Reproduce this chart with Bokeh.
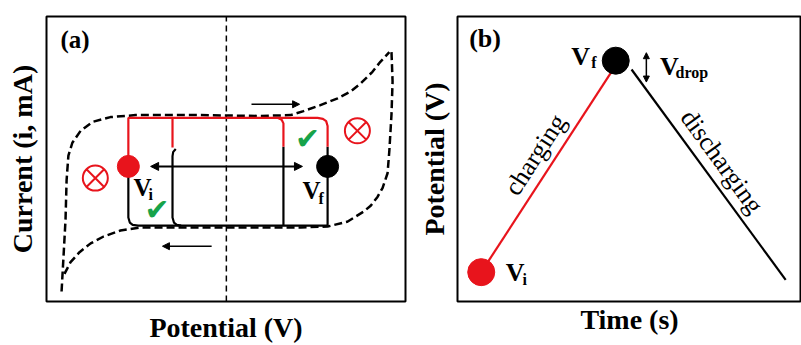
import math
from bokeh.plotting import figure
from bokeh.layouts import row
from bokeh.models import Range1d, FixedTicker, Arrow, NormalHead
from bokeh.core.properties import value
from bokeh.embed import file_html
from bokeh.resources import INLINE

# ---------------- Panel (a): CV schematic (normalised units 0-10) ----------------
cv_fwd_x = [0.42, 0.47, 0.53, 0.56, 0.61, 0.72, 0.95, 1.28, 1.78, 2.48, 4.29, 5.96, 6.80, 7.16, 7.63, 8.11, 8.47, 8.75, 9.08, 9.30, 9.55]
cv_fwd_y = [0.35, 1.49, 2.87, 4.26, 5.12, 5.57, 5.99, 6.30, 6.47, 6.54, 6.54, 6.51, 6.54, 6.68, 6.89, 7.13, 7.37, 7.65, 8.06, 8.41, 8.75]
cv_rev_x = [9.61, 9.64, 9.61, 9.55, 9.50, 9.36, 9.22, 9.03, 8.83, 8.38, 7.83, 7.08, 4.29, 2.62, 2.06, 1.59, 1.23, 0.92, 0.67, 0.50]
cv_rev_y = [8.75, 7.72, 6.57, 5.29, 4.50, 3.98, 3.67, 3.36, 3.15, 2.80, 2.63, 2.60, 2.60, 2.60, 2.49, 2.28, 2.04, 1.73, 1.38, 0.97]
zero_x = [5.01, 5.01]
zero_y = [0.0, 10.0]

# charging (red) segments
red_xs = [[2.28, 2.28, 7.55, 7.70, 7.79, 7.83, 7.83],
          [3.51, 3.51],
          [6.45, 6.55, 6.60, 6.60]]
red_ys = [[4.74, 6.44, 6.44, 6.41, 6.33, 6.16, 5.43],
          [6.44, 5.40],
          [6.44, 6.38, 6.25, 5.43]]
# discharging (black) segments
blk_xs = [[2.28, 2.28, 2.32, 2.40, 2.55, 7.83],
          [3.60, 3.53, 3.51, 3.51, 3.55, 3.63, 3.75],
          [6.60, 6.60],
          [7.83, 7.83]]
blk_ys = [[4.74, 2.95, 2.77, 2.69, 2.66, 2.66],
          [5.35, 5.25, 5.10, 2.95, 2.77, 2.69, 2.66],
          [5.43, 2.66],
          [5.43, 2.66]]

a_dot_x = [2.28, 7.83]
a_dot_y = [4.74, 4.74]
a_dot_c = ["#e8141c", "black"]

a_cross_x = [1.36, 8.66]
a_cross_y = [4.33, 5.99]

a_check_x = [3.08, 7.27]
a_check_y = [3.22, 5.71]

# arrows: (x0, y0, x1, y1)
a_window_arrow = [2.90, 4.74, 7.13, 4.74]
a_fwd_arrow = [5.71, 6.92, 7.05, 6.92]
a_rev_arrow = [4.60, 1.94, 3.23, 1.94]

a_big_txt = ["(a)", "V", "V"]
a_big_x = [0.39, 2.42, 7.13]
a_big_y = [9.20, 4.01, 3.91]
a_sub_txt = ["i", "f"]
a_sub_x = [2.84, 7.58]
a_sub_y = [3.77, 3.63]

# ---------------- Panel (b): GCD schematic ----------------
chg_x = [0.69, 4.49]
chg_y = [1.03, 8.08]
dis_x = [5.06, 9.54]
dis_y = [8.14, 0.76]
b_dot_x = [0.69, 4.60]
b_dot_y = [1.03, 8.45]
b_dot_c = ["#e8141c", "black"]
b_drop_arrow = [5.49, 8.73, 5.49, 7.70]

b_big_txt = ["(b)", "V", "V", "V"]
b_big_x = [0.34, 3.31, 5.89, 1.40]
b_big_y = [9.24, 8.59, 8.25, 1.03]
b_sub_txt = ["f", "drop", "i"]
b_sub_x = [3.89, 6.34, 1.89]
b_sub_y = [8.38, 8.04, 0.76]
b_lab_txt = ["charging", "discharging"]
b_lab_x = [2.26, 7.69]
b_lab_y = [5.15, 4.91]
b_lab_ang = [57.0, -53.9]

SERIF = "Liberation Serif"


def style(p):
    p.outline_line_color = "black"
    p.outline_line_width = 2
    p.xgrid.visible = False
    p.ygrid.visible = False
    for ax in (p.xaxis[0], p.yaxis[0]):
        ax.ticker = FixedTicker(ticks=[])
        ax.axis_line_color = None
        ax.major_tick_line_color = None
        ax.minor_tick_line_color = None
        ax.major_tick_out = 0
        ax.major_tick_in = 0
        ax.minor_tick_out = 0
        ax.major_label_standoff = 0
        ax.axis_label_text_font = SERIF
        ax.axis_label_text_font_style = "bold"
        ax.axis_label_text_font_size = "28px"
        ax.axis_label_text_color = "black"
    p.background_fill_color = "white"
    p.border_fill_color = "white"


def arrow(p, seg, width, size, both):
    head = lambda: NormalHead(size=size, fill_color="black", line_color="black", line_width=1)
    p.add_layout(Arrow(x_start=seg[0], y_start=seg[1], x_end=seg[2], y_end=seg[3],
                       start=head() if both else None, end=head(),
                       line_color="black", line_width=width))


# ---- figure (a)
pa = figure(width=415, height=345, x_range=Range1d(0, 10), y_range=Range1d(0, 10),
            output_backend="svg", toolbar_location=None,
            min_border_left=46, min_border_right=10, min_border_top=14, min_border_bottom=42)
style(pa)
pa.xaxis.axis_label = "Potential (V)"
pa.yaxis.axis_label = "Current (i, mA)"
pa.xaxis.axis_label_standoff = 10
pa.yaxis.axis_label_standoff = 9

pa.line(zero_x, zero_y, line_color="black", line_width=1.5, line_dash="6 4")
pa.line(cv_fwd_x, cv_fwd_y, line_color="black", line_width=2.5, line_dash="8 4")
pa.line(cv_rev_x, cv_rev_y, line_color="black", line_width=2.5, line_dash="8 4")
pa.multi_line(blk_xs, blk_ys, line_color="black", line_width=2.2)
pa.multi_line(red_xs, red_ys, line_color="#e8141c", line_width=2.2)
arrow(pa, a_window_arrow, 2, 8, True)
arrow(pa, a_fwd_arrow, 1.5, 7, False)
arrow(pa, a_rev_arrow, 1.5, 7, False)
pa.scatter(a_dot_x, a_dot_y, size=22, fill_color=a_dot_c, line_color=a_dot_c)
pa.scatter(a_cross_x, a_cross_y, marker="circle_x", size=25, fill_color=None,
           line_color="#e8141c", line_width=2)
pa.text(a_check_x, a_check_y, text=["\u2714", "\u2714"], text_color="#17a34a",
        text_font=value("DejaVu Sans"), text_font_size="30px",
        text_align="center", text_baseline="middle")
pa.text(a_big_x, a_big_y, text=a_big_txt, text_font=value(SERIF), text_font_style="bold",
        text_font_size="25px", text_align="left", text_baseline="middle")
pa.text(a_sub_x, a_sub_y, text=a_sub_txt, text_font=value(SERIF), text_font_style="bold",
        text_font_size="16px", text_align="left", text_baseline="middle")

# ---- figure (b)
pb = figure(width=386, height=345, x_range=Range1d(0, 10), y_range=Range1d(0, 10),
            output_backend="svg", toolbar_location=None,
            min_border_left=36, min_border_right=0, min_border_top=16, min_border_bottom=38)
style(pb)
pb.xaxis.axis_label = "Time (s)"
pb.yaxis.axis_label = "Potential (V)"
pb.xaxis.axis_label_standoff = 2
pb.yaxis.axis_label_standoff = 8

pb.line(chg_x, chg_y, line_color="#e8141c", line_width=2.2)
pb.line(dis_x, dis_y, line_color="black", line_width=2.2)
pb.scatter(b_dot_x, b_dot_y, size=27, fill_color=b_dot_c, line_color=b_dot_c)
arrow(pb, b_drop_arrow, 1.5, 6, True)
pb.text(b_big_x, b_big_y, text=b_big_txt, text_font=value(SERIF), text_font_style="bold",
        text_font_size="26px", text_align="left", text_baseline="middle")
pb.text(b_sub_x, b_sub_y, text=b_sub_txt, text_font=value(SERIF), text_font_style="bold",
        text_font_size="16px", text_align="left", text_baseline="middle")
pb.text(b_lab_x, b_lab_y, text=b_lab_txt, angle=[math.radians(a) for a in b_lab_ang],
        text_font=value(SERIF), text_font_size="26px",
        text_align="center", text_baseline="middle")

layout = row(pa, pb, spacing=0)
open("out.html", "w").write(file_html(layout, INLINE))
